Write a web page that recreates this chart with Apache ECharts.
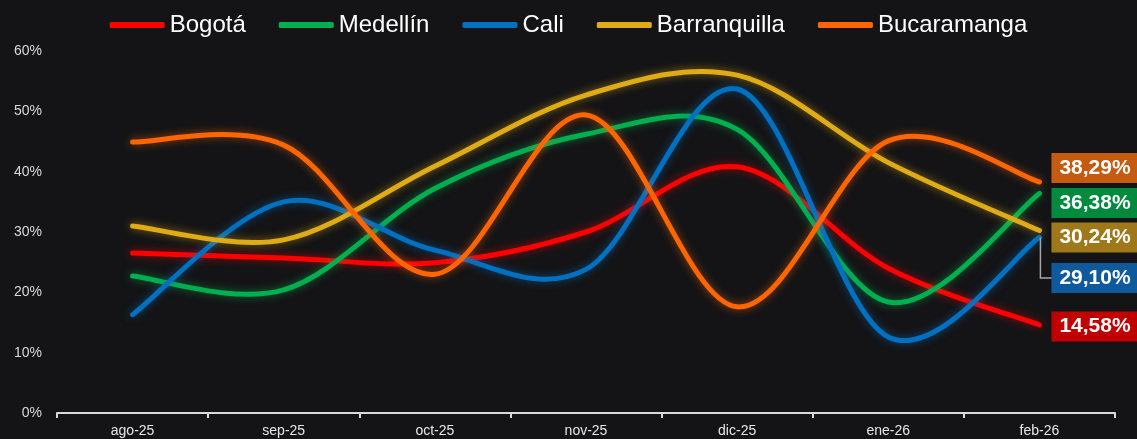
<!DOCTYPE html>
<html>
<head>
<meta charset="utf-8">
<script src="https://cdn.jsdelivr.net/npm/echarts@6/dist/echarts.min.js"></script>
<style>
html,body{margin:0;padding:0;background:#141416;}
#chart{width:1137px;height:439px;}
</style>
</head>
<body>
<div id="chart"></div>
<script>
const categories = ['ago-25','sep-25','oct-25','nov-25','dic-25','ene-26','feb-26'];
const bogota = [26.5, 25.7, 24.9, 30.0, 40.8, 24.0, 14.58];
const medellin = [22.7, 20.4, 37.2, 46.2, 47.0, 18.4, 36.38];
const cali = [16.3, 35.0, 27.0, 23.8, 53.7, 12.6, 29.10];
const barranquilla = [31.0, 28.7, 40.9, 52.7, 56.0, 41.5, 30.24];
const bucaramanga = [44.9, 44.4, 23.0, 49.4, 17.6, 45.1, 38.29];
const seriesNames = ['Bogotá','Medellín','Cali','Barranquilla','Bucaramanga'];
const yTicks = [0, 10, 20, 30, 40, 50, 60];

const colors = ['#FF0000','#00B050','#0070C0','#E0AC16','#FF6600'];
const labelBg = ['#C00000','#008A3E','#0E5A9C','#9E7819','#C55A11'];
const labelDy = [1.5, 9.5, 40.5, 7, -14];
const allData = [bogota, medellin, cali, barranquilla, bucaramanga];
const FONT = 'Liberation Sans, Arial, sans-serif';

function fmt(v){ return v.toFixed(2).replace('.', ',') + '%'; }

function makeRender(idx){
  return function(params, api){
    if (params.dataIndex !== 0) return null;
    const vals = allData[idx];
    const pts = vals.map((v, j) => api.coord([j, v]));
    const n = pts.length;
    let d = 'M' + pts[0][0] + ' ' + pts[0][1];
    for (let k = 0; k < n - 1; k++) {
      const p0 = pts[Math.max(k - 1, 0)];
      const p1 = pts[k];
      const p2 = pts[k + 1];
      const p3 = pts[Math.min(k + 2, n - 1)];
      const c1x = p1[0] + (p2[0] - p0[0]) / 6, c1y = p1[1] + (p2[1] - p0[1]) / 6;
      const c2x = p2[0] - (p3[0] - p1[0]) / 6, c2y = p2[1] - (p3[1] - p1[1]) / 6;
      d += ' C' + c1x + ' ' + c1y + ' ' + c2x + ' ' + c2y + ' ' + p2[0] + ' ' + p2[1];
    }
    const end = pts[n - 1];
    const ly = end[1] + labelDy[idx];
    const children = [{
      type: 'path',
      shape: {pathData: d},
      style: {stroke: colors[idx], lineWidth: 5, fill: null, lineCap: 'round', lineJoin: 'round',
              shadowBlur: 8, shadowColor: colors[idx] + '99'},
      silent: true
    }];
    if (idx === 2) {
      children.push({
        type: 'polyline',
        shape: {points: [[end[0] + 1, end[1]], [end[0] + 1, ly], [end[0] + 14, ly]]},
        style: {stroke: '#a6a6a6', lineWidth: 1.5, fill: null},
        silent: true
      });
    }
    children.push({
      type: 'text',
      x: end[0] + 12, y: ly,
      style: {
        text: fmt(vals[n - 1]),
        fill: '#ffffff',
        font: 'bold 21px ' + FONT,
        align: 'left', verticalAlign: 'middle',
        backgroundColor: labelBg[idx],
        padding: [4, 8, 4, 8],
        lineHeight: 22
      },
      silent: true,
      z2: 100
    });
    return {type: 'group', children: children};
  };
}

const chart = echarts.init(document.getElementById('chart'), null, {renderer:'canvas'});
const series = seriesNames.map((name, i) => ({
  name: name,
  type: 'custom',
  coordinateSystem: 'cartesian2d',
  data: allData[i].map((v, j) => [j, v]),
  encode: {x: 0, y: 1},
  renderItem: makeRender(i),
  itemStyle: {color: colors[i]},
  clip: false,
  z: 2 + i
}));

chart.setOption({
  animation: false,
  backgroundColor: '#141416',
  legend: {
    top: 8,
    left: 'center',
    itemWidth: 55,
    itemHeight: 6,
    itemGap: 33,
    icon: 'roundRect',
    textStyle: {color: '#ffffff', fontSize: 24, fontFamily: FONT},
    data: seriesNames
  },
  grid: {left: 57, right: 22, top: 51, bottom: 26, containLabel: false},
  xAxis: {
    type: 'category',
    data: categories,
    boundaryGap: true,
    axisLine: {lineStyle: {color: '#d9d9d9', width: 2}},
    axisTick: {show: true, length: 5, lineStyle: {color: '#d9d9d9', width: 2}},
    axisLabel: {color: '#e6e6e6', fontSize: 14, margin: 11, fontFamily: FONT}
  },
  yAxis: {
    type: 'value',
    min: yTicks[0], max: yTicks[yTicks.length-1], interval: 10,
    axisLine: {show: false},
    axisTick: {show: false},
    splitLine: {show: false},
    axisLabel: {color: '#d9d9d9', fontSize: 14, margin: 15, formatter: '{value}%', fontFamily: FONT}
  },
  series: series
});
</script>
</body>
</html>
